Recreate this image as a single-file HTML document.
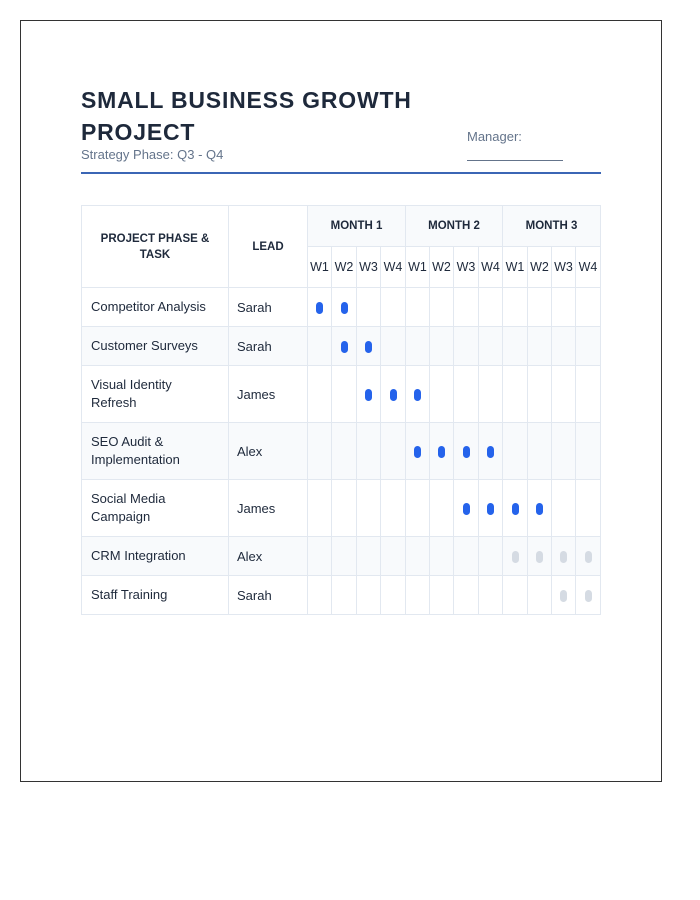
<!DOCTYPE html>
<html><head><meta charset="utf-8"><style>
*{margin:0;padding:0;box-sizing:border-box}
body{width:700px;height:900px;background:#fff;font-family:"Liberation Sans","DejaVu Sans",sans-serif;position:relative}
.page{position:absolute;left:20px;top:20px;width:642px;height:762px;border:1px solid #333}
.t{position:absolute;left:81px;top:84px;font-size:23px;font-weight:bold;color:#1e293b;letter-spacing:0.8px;line-height:32px}
.sub{position:absolute;left:81px;top:147px;font-size:13px;color:#64748b}
.mgr{position:absolute;left:467px;top:129px;font-size:13px;color:#64748b}
.mline{position:absolute;left:467px;top:160px;width:96px;border-top:1px solid #64748b}
.rule{position:absolute;left:81px;top:172px;width:520px;height:2px;background:#3b66b5}
table{position:absolute;left:81px;top:205px;border-collapse:collapse;table-layout:fixed;font-size:13px;color:#1e293b}
td,th{border:1px solid #e2e8f0;padding:0}
th{font-size:11.5px;font-weight:bold;color:#1e293b;background:#fff}
th.m{background:#f8fafc}
th.w{font-weight:normal;font-size:12.5px}
td.n{padding-left:9px;line-height:18px}
td.l{padding-left:8px}
tr.alt td{background:#f8fafc}
td.c{text-align:center}
.d{display:inline-block;width:7px;height:12px;border-radius:4px;background:#2563eb;vertical-align:middle}
.g{background:#d5dbe3}
</style></head><body>
<div class="page"></div>
<div class="t">SMALL BUSINESS GROWTH<br>PROJECT</div>
<div class="sub">Strategy Phase: Q3 - Q4</div>
<div class="mgr">Manager:</div>
<div class="mline"></div>
<div class="rule"></div>
<table>
<colgroup><col style="width:147px"><col style="width:79px"><col style="width:24px"><col style="width:25px"><col style="width:24px"><col style="width:25px"><col style="width:24px"><col style="width:24px"><col style="width:25px"><col style="width:24px"><col style="width:25px"><col style="width:24px"><col style="width:24px"><col style="width:25px"></colgroup>
<tr style="height:41px"><th rowspan="2" style="line-height:16px">PROJECT PHASE &amp;<br>TASK</th><th rowspan="2">LEAD</th><th colspan="4" class="m">MONTH 1</th><th colspan="4" class="m">MONTH 2</th><th colspan="4" class="m">MONTH 3</th></tr>
<tr style="height:41px"><th class="w">W1</th><th class="w">W2</th><th class="w">W3</th><th class="w">W4</th><th class="w">W1</th><th class="w">W2</th><th class="w">W3</th><th class="w">W4</th><th class="w">W1</th><th class="w">W2</th><th class="w">W3</th><th class="w">W4</th></tr>
<tr style="height:39px"><td class="n">Competitor Analysis</td><td class="l">Sarah</td><td class="c"><span class="d"></span></td><td class="c"><span class="d"></span></td><td></td><td></td><td></td><td></td><td></td><td></td><td></td><td></td><td></td><td></td></tr>
<tr class="alt" style="height:39px"><td class="n">Customer Surveys</td><td class="l">Sarah</td><td></td><td class="c"><span class="d"></span></td><td class="c"><span class="d"></span></td><td></td><td></td><td></td><td></td><td></td><td></td><td></td><td></td><td></td></tr>
<tr style="height:57px"><td class="n">Visual Identity<br>Refresh</td><td class="l">James</td><td></td><td></td><td class="c"><span class="d"></span></td><td class="c"><span class="d"></span></td><td class="c"><span class="d"></span></td><td></td><td></td><td></td><td></td><td></td><td></td><td></td></tr>
<tr class="alt" style="height:57px"><td class="n">SEO Audit &amp;<br>Implementation</td><td class="l">Alex</td><td></td><td></td><td></td><td></td><td class="c"><span class="d"></span></td><td class="c"><span class="d"></span></td><td class="c"><span class="d"></span></td><td class="c"><span class="d"></span></td><td></td><td></td><td></td><td></td></tr>
<tr style="height:57px"><td class="n">Social Media<br>Campaign</td><td class="l">James</td><td></td><td></td><td></td><td></td><td></td><td></td><td class="c"><span class="d"></span></td><td class="c"><span class="d"></span></td><td class="c"><span class="d"></span></td><td class="c"><span class="d"></span></td><td></td><td></td></tr>
<tr class="alt" style="height:39px"><td class="n">CRM Integration</td><td class="l">Alex</td><td></td><td></td><td></td><td></td><td></td><td></td><td></td><td></td><td class="c"><span class="d g"></span></td><td class="c"><span class="d g"></span></td><td class="c"><span class="d g"></span></td><td class="c"><span class="d g"></span></td></tr>
<tr style="height:39px"><td class="n">Staff Training</td><td class="l">Sarah</td><td></td><td></td><td></td><td></td><td></td><td></td><td></td><td></td><td></td><td></td><td class="c"><span class="d g"></span></td><td class="c"><span class="d g"></span></td></tr>
</table>
</body></html>
